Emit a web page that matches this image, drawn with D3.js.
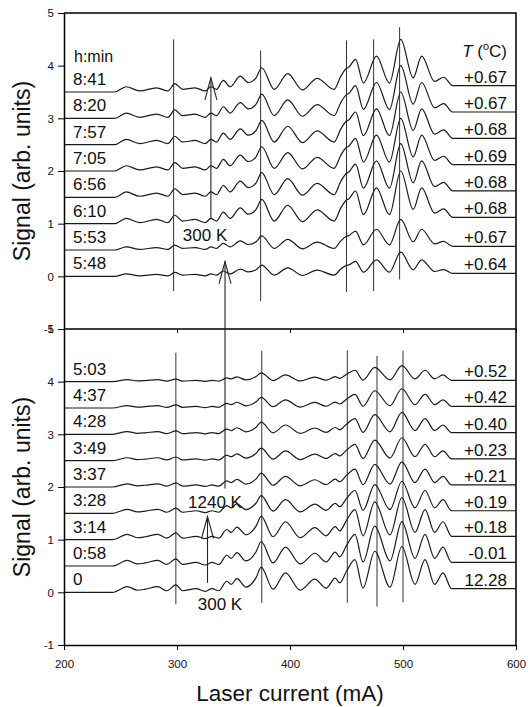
<!DOCTYPE html>
<html>
<head>
<meta charset="utf-8">
<script src="https://cdn.jsdelivr.net/npm/d3@7"></script>
<style>
  body { margin: 0; background: #fff; }
  svg text { font-family: "Liberation Sans", Arial, sans-serif; fill: #111; }
</style>
</head>
<body>
<div id="chart"></div>
<script>
// ---- data ----
// upper panel (later times), listed top to bottom
const topTimes   = ["8:41", "8:20", "7:57", "7:05", "6:56", "6:10", "5:53", "5:48"];
const topTemps   = ["+0.67", "+0.67", "+0.68", "+0.69", "+0.68", "+0.68", "+0.67", "+0.64"];
const topOffsets = [3.5, 3.0, 2.5, 2.0, 1.5, 1.0, 0.5, 0.0];
const topScales  = [1.0, 1.0, 1.0, 1.0, 1.02, 1.0, 0.58, 0.46];

// lower panel (early times), listed top to bottom
const botTimes   = ["5:03", "4:37", "4:28", "3:49", "3:37", "3:28", "3:14", "0:58", "0"];
const botTemps   = ["+0.52", "+0.42", "+0.40", "+0.23", "+0.21", "+0.19", "+0.18", "-0.01", "12.28"];
const botOffsets = [4.0, 3.5, 3.0, 2.5, 2.0, 1.5, 1.0, 0.5, 0.0];
const botScales  = [0.35, 0.42, 0.48, 0.5, 0.55, 0.7, 0.92, 0.97, 1.0];

// spectrum shape [laser current mA, signal] for the strongest trace of each panel
const topShape = [
  [200, 0], [245, 0], [255, 0.10], [267, 0.02], [282, 0.08], [292, 0.02], [298, 0.16],
  [305, 0.05], [316, 0.08], [325, 0.02], [330, 0.10], [335, 0.05], [341, 0.22], [347, 0.10],
  [356, 0.30], [363, 0.18], [370, 0.27], [375, 0.46], [386, 0.05], [398, 0.35], [411, 0.04],
  [424, 0.26], [439, 0.05], [445, 0.30], [450, 0.45], [452, 0.47], [458, 0.62], [465, 0.17],
  [476.5, 0.68], [488, 0.17], [498, 1.0], [509, 0.27], [516.5, 0.68], [528, 0.20],
  [536, 0.28], [544, 0.12], [600, 0.12]
];
const botShape = [
  [200, 0], [243, 0], [256, 0.11], [265, 0.04], [272, 0.06], [283, 0.11], [291, 0.03],
  [299, 0.14], [305, 0.03], [317, 0.07], [325, 0.02], [331, 0.07], [337, 0.03], [344, 0.21],
  [348, 0.15], [353, 0.26], [361, 0.10], [370, 0.28], [374.5, 0.48], [385, 0.06], [396, 0.37],
  [409, 0.04], [422, 0.25], [432, 0.08], [440, 0.27], [444, 0.18], [450, 0.40], [457.5, 0.62],
  [464.6, 0.08], [475, 0.78], [488.5, 0.10], [499, 0.87], [510.6, 0.15], [519.5, 0.62],
  [528, 0.15], [535.4, 0.37], [543, 0.07], [600, 0.07]
];

// vertical marker lines [current, from, to]
const topMarkers = [[297, -0.28, 4.5], [374, -0.47, 4.29], [450, -0.30, 4.48], [474, -0.28, 4.5], [497, -0.06, 4.73]];
const botMarkers = [[299, -0.23, 4.55], [375, -0.2, 4.59], [450.7, -0.2, 4.59], [477, -0.27, 4.49], [500, -0.19, 4.59]];

const yTicks = [-1, 0, 1, 2, 3, 4, 5];
const xTicks = [200, 300, 400, 500, 600];

// ---- layout ----
const width = 528, height = 707;
const left = 64, right = 516, top1 = 13, mid = 329, bottom = 645;

const svg = d3.select("#chart").append("svg")
  .attr("width", width)
  .attr("height", height);

const x = d3.scaleLinear().domain([200, 600]).range([left, right]);
const yTop = d3.scaleLinear().domain([-1, 5]).range([mid, top1]);
const yBot = d3.scaleLinear().domain([-1, 5]).range([bottom, mid]);

function drawPanel(y, shape, offsets, scales, times, temps, markers) {
  const g = svg.append("g");

  // marker lines
  g.selectAll("line.marker")
    .data(markers)
    .join("line")
    .attr("x1", d => x(d[0])).attr("x2", d => x(d[0]))
    .attr("y1", d => y(d[1])).attr("y2", d => y(d[2]))
    .attr("stroke", "#333")
    .attr("stroke-width", 1);

  const line = d3.line()
    .x(d => x(d[0]))
    .y(d => y(d[1]))
    .curve(d3.curveMonotoneX);

  const traces = offsets.map((off, i) => shape.map(([c, v]) => [c, off + scales[i] * v]));

  g.selectAll("path.trace")
    .data(traces)
    .join("path")
    .attr("d", line)
    .attr("fill", "none")
    .attr("stroke", "#1a1a1a")
    .attr("stroke-width", 1.2);

  // time labels on the left
  g.selectAll("text.time")
    .data(times)
    .join("text")
    .attr("x", left + 9)
    .attr("y", (d, i) => y(offsets[i]) - 7)
    .attr("font-size", 17)
    .text(d => d);

  // temperature labels on the right, sitting on the flat tail
  const endVal = shape[shape.length - 1][1];
  g.selectAll("text.temp")
    .data(temps)
    .join("text")
    .attr("x", right - 9)
    .attr("y", (d, i) => y(offsets[i] + scales[i] * endVal) - 3)
    .attr("text-anchor", "end")
    .attr("font-size", 17)
    .text(d => d);

  // y axis
  g.append("g")
    .attr("transform", `translate(${left},0)`)
    .call(d3.axisLeft(y).tickValues(yTicks).tickFormat(d => String(d))
      .tickSize(6).tickSizeOuter(0).tickPadding(4))
    .call(a => a.select(".domain").attr("stroke", "#000").attr("stroke-width", 1.5))
    .call(a => a.selectAll(".tick line").attr("stroke", "#000"))
    .call(a => a.selectAll(".tick text").attr("font-size", 11.5).attr("fill", "#222")
      .style("font-family", '"Liberation Sans", Arial, sans-serif'));
}

drawPanel(yTop, topShape, topOffsets, topScales, topTimes, topTemps, topMarkers);
drawPanel(yBot, botShape, botOffsets, botScales, botTimes, botTemps, botMarkers);

// frame: top line, right line, panel divider
svg.append("path")
  .attr("d", `M${left},${top1}H${right}V${bottom}M${left},${mid}H${right}`)
  .attr("fill", "none")
  .attr("stroke", "#000")
  .attr("stroke-width", 1.5);

// x ticks under the upper panel (no labels)
svg.append("g")
  .attr("transform", `translate(0,${mid})`)
  .call(d3.axisBottom(x).tickValues(xTicks).tickSize(4).tickSizeOuter(0).tickFormat(""))
  .call(a => a.select(".domain").remove());

// x axis at the bottom
svg.append("g")
  .attr("transform", `translate(0,${bottom})`)
  .call(d3.axisBottom(x).tickValues(xTicks).tickFormat(d => String(d))
    .tickSize(5).tickSizeOuter(0).tickPadding(10))
  .call(a => a.select(".domain").attr("stroke", "#000").attr("stroke-width", 1.5))
  .call(a => a.selectAll(".tick text").attr("font-size", 11.5).attr("fill", "#222")
    .style("font-family", '"Liberation Sans", Arial, sans-serif'));

// headers
svg.append("text")
  .attr("x", left + 10).attr("y", yTop(4) - 4)
  .attr("font-size", 16)
  .text("h:min");

const tHead = svg.append("text")
  .attr("x", right - 9).attr("y", yTop(4) - 9)
  .attr("text-anchor", "end")
  .attr("font-size", 17);
tHead.append("tspan").attr("font-style", "italic").text("T");
tHead.append("tspan").text(" (");
tHead.append("tspan").attr("font-size", 11).attr("dy", -7).text("o");
tHead.append("tspan").attr("dy", 7).text("C)");

// arrows
function arrow(x0, y0, x1, y1) {
  svg.append("line")
    .attr("x1", x0).attr("y1", y0).attr("x2", x1).attr("y2", y1)
    .attr("stroke", "#222").attr("stroke-width", 1.1);
  svg.append("path")
    .attr("d", `M${x1 - 6},${y1 + 22}L${x1},${y1}L${x1 + 6},${y1 + 22}`)
    .attr("fill", "none").attr("stroke", "#222").attr("stroke-width", 1.1);
}
arrow(x(330), yTop(1.08), x(330), yTop(3.77));
arrow(x(342.5), yBot(1.97), x(342.5), yTop(0.28));
arrow(x(327), yBot(0.18), x(327), yBot(1.44));

const notes = [
  ["300 K", x(324.8), yTop(0.68)],
  ["1240 K", x(333.6), yBot(1.61)],
  ["300 K", x(338), yBot(-0.33)]
];
svg.selectAll("text.note")
  .data(notes)
  .join("text")
  .attr("x", d => d[1]).attr("y", d => d[2])
  .attr("text-anchor", "middle")
  .attr("font-size", 17)
  .text(d => d[0]);

// axis titles
svg.append("text")
  .attr("x", (left + right) / 2).attr("y", 701)
  .attr("text-anchor", "middle")
  .attr("font-size", 22.5)
  .text("Laser current (mA)");

[yTop, yBot].forEach(y => {
  svg.append("text")
    .attr("transform", `translate(30,${y(2)}) rotate(-90)`)
    .attr("text-anchor", "middle")
    .attr("font-size", 23)
    .text("Signal (arb. units)");
});
</script>
</body>
</html>
